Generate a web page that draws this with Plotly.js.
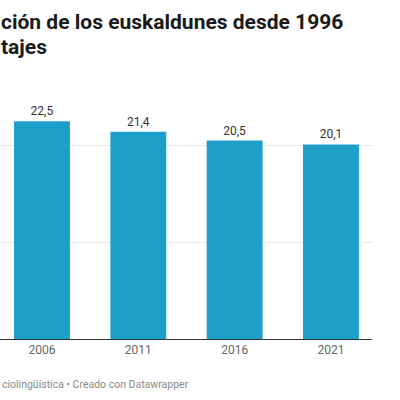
<!DOCTYPE html>
<html>
<head>
<meta charset="utf-8">
<script src="https://cdn.plot.ly/plotly-3.0.1.min.js"></script>
<style>html,body{margin:0;padding:0;background:#fff;}#chart{width:400px;height:400px;}</style>
</head>
<body>
<div id="chart"></div>
<script>
const years = ["2006", "2011", "2016", "2021"];
const values = [22.5, 21.4, 20.5, 20.1];
const valueLabels = ["22,5", "21,4", "20,5", "20,1"];
const titleLine1 = "ción de los euskaldunes desde 1996";
const titleLine2 = "tajes";
const sourceText = "ciolingüística • Creado con Datawrapper";

const trace = {
  type: "bar",
  x: years,
  y: values,
  text: valueLabels,
  textposition: "outside",
  cliponaxis: false,
  textfont: {family: "Roboto, sans-serif", size: 12, color: "#333333"},
  marker: {color: "#1d9fca"},
  hoverinfo: "skip"
};

const titleFont = {family: "Roboto, sans-serif", size: 21, color: "#1a1a1a", weight: 700};

const layout = {
  width: 400,
  height: 400,
  margin: {l: 0, r: 28, t: 97, b: 61},
  paper_bgcolor: "#ffffff",
  plot_bgcolor: "#ffffff",
  showlegend: false,
  bargap: 0.42,
  font: {family: "Roboto, sans-serif"},
  xaxis: {
    type: "category",
    range: [-0.436, 3.426],
    showgrid: false,
    showline: true,
    linecolor: "#333333",
    linewidth: 1,
    ticks: "",
    tickfont: {family: "Roboto, sans-serif", size: 12, color: "#666666"},
    fixedrange: true
  },
  yaxis: {
    range: [0, 25],
    tickvals: [10, 20],
    showticklabels: false,
    showgrid: true,
    gridcolor: "#e8e8e8",
    gridwidth: 1,
    zeroline: false,
    fixedrange: true
  },
  annotations: [
    {
      text: titleLine1,
      xref: "paper", yref: "paper",
      x: 0, y: 1.308, xanchor: "left", yanchor: "middle", xshift: -1,
      showarrow: false,
      font: titleFont
    },
    {
      text: titleLine2,
      xref: "paper", yref: "paper",
      x: 0, y: 1.207, xanchor: "left", yanchor: "middle", xshift: -1,
      showarrow: false,
      font: titleFont
    },
    {
      text: sourceText,
      xref: "paper", yref: "paper",
      x: 0, y: -0.19, xanchor: "left", yanchor: "middle",
      showarrow: false,
      font: {family: "Roboto, sans-serif", size: 10.5, color: "#8a8a8a"}
    }
  ]
};

Plotly.newPlot("chart", [trace], layout, {displayModeBar: false, staticPlot: true});
</script>
</body>
</html>
